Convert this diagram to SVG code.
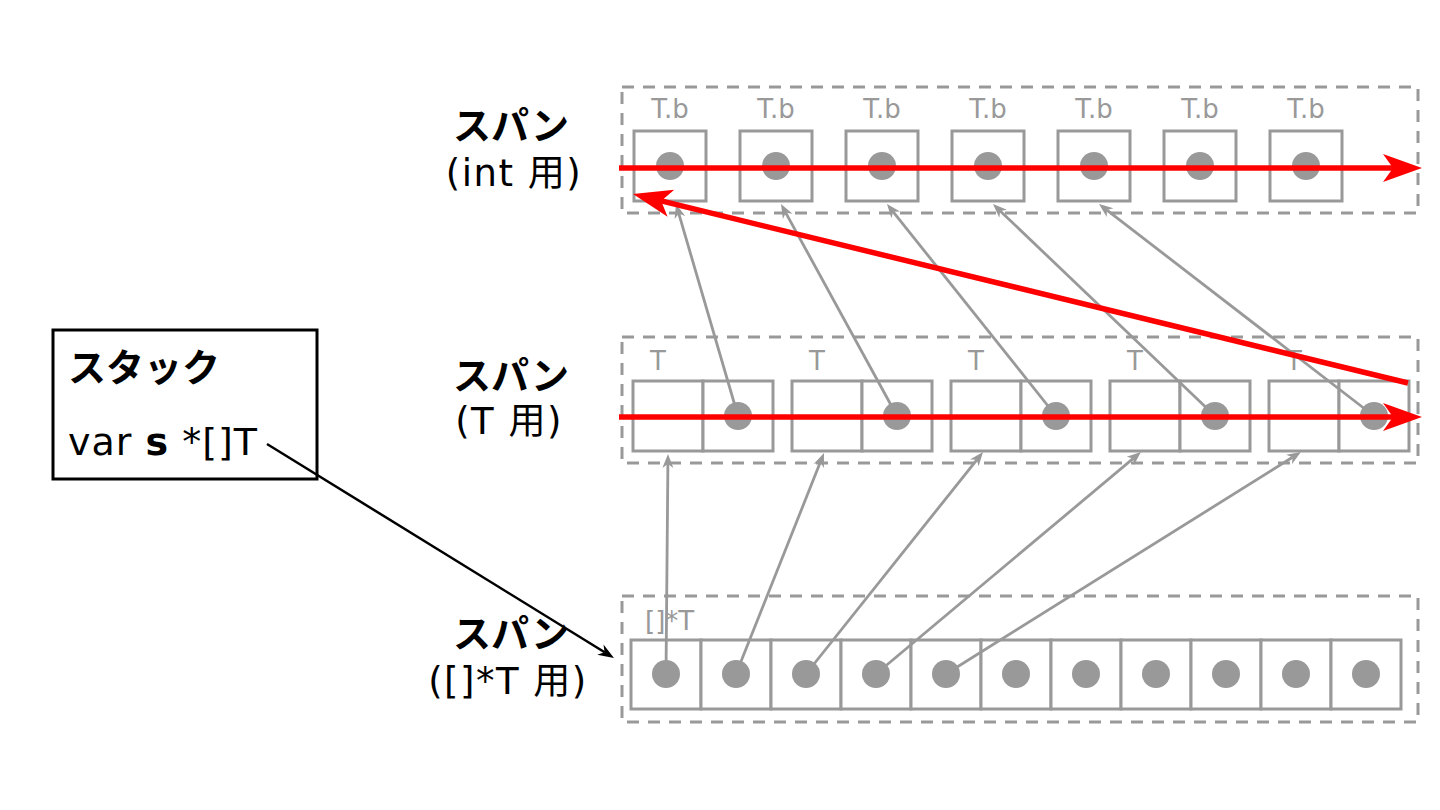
<svg xmlns="http://www.w3.org/2000/svg" width="1440" height="810" viewBox="0 0 1440 810">
<style>
.bg{fill:#fff}
.dash{fill:none;stroke:#999;stroke-width:3;stroke-dasharray:12 9}
.cell{fill:#fff;stroke:#999;stroke-width:3}
.dot{fill:#999}
.glabel{font-family:"DejaVu Sans",sans-serif;font-size:26px;fill:#999}
.lbl1{font-family:"Noto Sans CJK JP",sans-serif;font-weight:bold;font-size:38px;fill:#000;text-anchor:middle}
.lbl2{font-family:"DejaVu Sans","Noto Sans CJK JP",sans-serif;font-size:37px;letter-spacing:1.5px;fill:#000;text-anchor:middle}
.gline{fill:none;stroke:#999;stroke-width:2.8;marker-end:url(#ga)}
.rline{fill:none;stroke:#f00;stroke-width:5.5;marker-end:url(#ra)}
.bline{fill:none;stroke:#000;stroke-width:2.5;marker-end:url(#ba)}
</style>
<defs>
<marker id="ra" markerUnits="userSpaceOnUse" markerWidth="40" markerHeight="28" refX="10" refY="14" orient="auto" overflow="visible">
<path d="M0,0 L39,14 L0,28 L10,14 z" fill="#f00"/>
</marker>
<marker id="ga" markerUnits="userSpaceOnUse" markerWidth="14" markerHeight="11" refX="4" refY="5.5" orient="auto" overflow="visible">
<path d="M0,0 L14,5.5 L0,11 L4,5.5 z" fill="#999"/>
</marker>
<marker id="ba" markerUnits="userSpaceOnUse" markerWidth="16" markerHeight="12" refX="5" refY="6" orient="auto" overflow="visible">
<path d="M0,0 L16,6 L0,12 L5,6 z" fill="#000"/>
</marker>
</defs>
<rect class="bg" x="0" y="0" width="1440" height="810"/>

<g id="stack">
<rect x="53" y="330" width="264" height="149" fill="#fff" stroke="#000" stroke-width="3"/>
<text x="68" y="381" font-family="Noto Sans CJK JP, sans-serif" font-weight="bold" font-size="38">スタック</text>
<text x="68" y="455" font-family="DejaVu Sans, sans-serif" font-size="38" letter-spacing="1">var <tspan font-weight="bold">s</tspan> *[]T</text>
</g>

<g id="label-int">
<text class="lbl1" x="511" y="139">スパン</text>
<text class="lbl2" x="514" y="186">(int 用)</text>
</g>
<g id="label-T">
<text class="lbl1" x="511" y="389">スパン</text>
<text class="lbl2" x="509" y="434">(T 用)</text>
</g>
<g id="label-ptr">
<text class="lbl1" x="511" y="647">スパン</text>
<text class="lbl2" x="508" y="694">([]*T 用)</text>
</g>

<g id="span-int">
<rect class="dash" x="622" y="87" width="796" height="126"/>
<g class="glabel" text-anchor="middle">
<text x="670" y="118">T.b</text><text x="776" y="118">T.b</text><text x="882" y="118">T.b</text><text x="988" y="118">T.b</text><text x="1094" y="118">T.b</text><text x="1200" y="118">T.b</text><text x="1306" y="118">T.b</text>
</g>
<rect class="cell" x="634" y="131" width="72" height="70"/>
<rect class="cell" x="740" y="131" width="72" height="70"/>
<rect class="cell" x="846" y="131" width="72" height="70"/>
<rect class="cell" x="952" y="131" width="72" height="70"/>
<rect class="cell" x="1058" y="131" width="72" height="70"/>
<rect class="cell" x="1164" y="131" width="72" height="70"/>
<rect class="cell" x="1270" y="131" width="72" height="70"/>
<circle class="dot" cx="670" cy="166" r="14"/>
<circle class="dot" cx="776" cy="166" r="14"/>
<circle class="dot" cx="882" cy="166" r="14"/>
<circle class="dot" cx="988" cy="166" r="14"/>
<circle class="dot" cx="1094" cy="166" r="14"/>
<circle class="dot" cx="1200" cy="166" r="14"/>
<circle class="dot" cx="1306" cy="166" r="14"/>
</g>

<g id="span-T">
<rect class="dash" x="622" y="337" width="796" height="126"/>
<g class="glabel" text-anchor="middle">
<text x="658" y="370">T</text><text x="817" y="370">T</text><text x="976" y="370">T</text><text x="1135" y="370">T</text><text x="1294" y="370">T</text>
</g>
<rect class="cell" x="633" y="381" width="70" height="70"/><rect class="cell" x="703" y="381" width="70" height="70"/>
<rect class="cell" x="792" y="381" width="70" height="70"/><rect class="cell" x="862" y="381" width="70" height="70"/>
<rect class="cell" x="951" y="381" width="70" height="70"/><rect class="cell" x="1021" y="381" width="70" height="70"/>
<rect class="cell" x="1110" y="381" width="70" height="70"/><rect class="cell" x="1180" y="381" width="70" height="70"/>
<rect class="cell" x="1269" y="381" width="70" height="70"/><rect class="cell" x="1339" y="381" width="70" height="70"/>
</g>

<g id="span-ptr">
<rect class="dash" x="622" y="596" width="796" height="126"/>
<text class="glabel" x="645" y="630">[]*T</text>
<rect class="cell" x="631" y="640" width="70" height="69"/>
<rect class="cell" x="701" y="640" width="70" height="69"/>
<rect class="cell" x="771" y="640" width="70" height="69"/>
<rect class="cell" x="841" y="640" width="70" height="69"/>
<rect class="cell" x="911" y="640" width="70" height="69"/>
<rect class="cell" x="981" y="640" width="70" height="69"/>
<rect class="cell" x="1051" y="640" width="70" height="69"/>
<rect class="cell" x="1121" y="640" width="70" height="69"/>
<rect class="cell" x="1191" y="640" width="70" height="69"/>
<rect class="cell" x="1261" y="640" width="70" height="69"/>
<rect class="cell" x="1331" y="640" width="70" height="69"/>
</g>

<g id="connectors">
<line class="gline" x1="666" y1="674" x2="667.9" y2="464"/>
<line class="gline" x1="736" y1="674" x2="820.3" y2="462.3"/>
<line class="gline" x1="806" y1="674" x2="976.8" y2="459.8"/>
<line class="gline" x1="876" y1="674" x2="1133.3" y2="458.4"/>
<line class="gline" x1="946" y1="674" x2="1292.5" y2="457.3"/>
<line class="gline" x1="738" y1="416" x2="678.8" y2="213.6"/>
<line class="gline" x1="897" y1="416" x2="785.8" y2="212.8"/>
<line class="gline" x1="1056" y1="416" x2="893.2" y2="211.8"/>
<line class="gline" x1="1215" y1="416" x2="1000.2" y2="210.9"/>
<line class="gline" x1="1374" y1="416" x2="1106.9" y2="210.1"/>
</g>

<g id="dots">
<circle class="dot" cx="738" cy="416" r="14"/>
<circle class="dot" cx="897" cy="416" r="14"/>
<circle class="dot" cx="1056" cy="416" r="14"/>
<circle class="dot" cx="1215" cy="416" r="14"/>
<circle class="dot" cx="1374" cy="416" r="14"/>
<circle class="dot" cx="666" cy="674" r="14"/>
<circle class="dot" cx="736" cy="674" r="14"/>
<circle class="dot" cx="806" cy="674" r="14"/>
<circle class="dot" cx="876" cy="674" r="14"/>
<circle class="dot" cx="946" cy="674" r="14"/>
<circle class="dot" cx="1016" cy="674" r="14"/>
<circle class="dot" cx="1086" cy="674" r="14"/>
<circle class="dot" cx="1156" cy="674" r="14"/>
<circle class="dot" cx="1226" cy="674" r="14"/>
<circle class="dot" cx="1296" cy="674" r="14"/>
<circle class="dot" cx="1366" cy="674" r="14"/>
</g>

<g id="order-connectors">
<line class="rline" x1="619" y1="168" x2="1393" y2="168"/>
<line class="rline" x1="1408" y1="383" x2="661.2" y2="200.9"/>
<line class="rline" x1="619" y1="417" x2="1393" y2="417"/>
<line class="bline" x1="267" y1="444" x2="604.6" y2="652.2"/>
</g>
</svg>
